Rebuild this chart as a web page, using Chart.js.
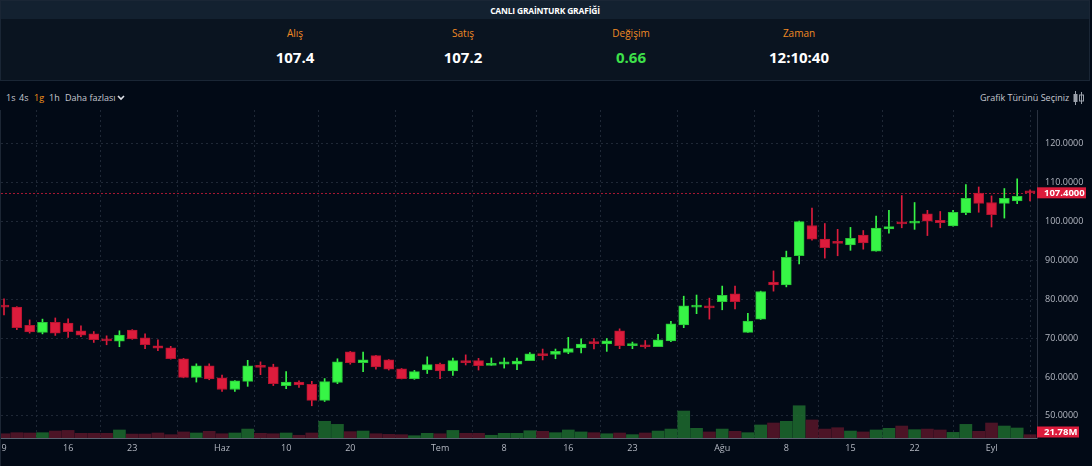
<!DOCTYPE html>
<html>
<head>
<meta charset="utf-8">
<script src="https://cdn.jsdelivr.net/npm/chart.js@4.4.1/dist/chart.umd.min.js"></script>
<style>
html, body { margin: 0; padding: 0; width: 1092px; height: 466px; overflow: hidden; background: #020a16; font-family: "Open Sans", sans-serif; }
#head { position: absolute; left: 0; top: 0; width: 1088px; height: 79px; background: #0a1420; border: 1px solid #1a2635; }
#title { height: 18px; background: #132130; color: #fff; font-weight: 700; font-size: 8.5px; text-align: center; line-height: 20px; letter-spacing: -0.2px; }
.col { position: absolute; width: 168px; text-align: center; }
.lab { top: 25px; color: #f08a24; font-size: 10px; }
.val { top: 46px; color: #fff; font-weight: 700; font-size: 15px; }
#tools { position: absolute; top: 90px; left: 0; width: 1092px; height: 16px; font-size: 9px; color: #c5c8d0; line-height: 16px; }
#tools span { position: absolute; }
#wrap { position: absolute; left: 0; top: 110px; width: 1092px; height: 356px; border-left: 1px solid #1c2634; box-sizing: border-box; }
</style>
</head>
<body>
<div id="head">
  <div id="title">CANLI GRAİNTURK GRAFİĞİ</div>
  <div class="col lab" style="left:210px">Alış</div>
  <div class="col lab" style="left:378px">Satış</div>
  <div class="col lab" style="left:546px">Değişim</div>
  <div class="col lab" style="left:714px">Zaman</div>
  <div class="col val" style="left:210px">107.4</div>
  <div class="col val" style="left:378px">107.2</div>
  <div class="col val" style="left:546px;color:#3ee04a">0.66</div>
  <div class="col val" style="left:714px">12:10:40</div>
</div>
<div id="tools">
  <span style="left:6px">1s</span>
  <span style="left:19px">4s</span>
  <span style="left:34px;color:#f7931a">1g</span>
  <span style="left:49px">1h</span>
  <span style="left:65px">Daha fazlası</span>
  <svg style="position:absolute;left:117px;top:5px" width="8" height="6"><polyline points="1,1 4,4 7,1" fill="none" stroke="#e0e2e8" stroke-width="1.6"/></svg>
  <span style="left:980px">Grafik Türünü Seçiniz</span>
  <svg style="position:absolute;left:1073px;top:1px" width="11" height="14">
    <line x1="2.5" y1="0" x2="2.5" y2="14" stroke="#9aa0aa"/><rect x="0.5" y="3" width="4" height="8" fill="#9aa0aa"/>
    <line x1="8.5" y1="1" x2="8.5" y2="13" stroke="#9aa0aa"/><rect x="6.5" y="4" width="4" height="6" fill="none" stroke="#9aa0aa"/>
  </svg>
</div>
<div id="wrap"><canvas id="chart"></canvas></div>
<script>
// daily candles (index = trading day), 9 May -> 5 Eyl
const open  = [78.3,78.0,73.3,71.5,74.1,73.9,71.9,71.1,69.8,69.2,72.1,70.1,68.0,67.5,64.7,59.9,62.9,59.8,56.8,58.9,
               62.9,62.6,57.8,58.7,58.1,54.0,58.6,66.5,63.7,65.5,64.4,62.1,59.6,61.8,63.3,61.6,64.2,64.2,63.0,63.3,
               63.3,64.2,66.0,65.8,66.3,67.5,69.0,68.5,71.9,68.1,68.3,67.8,69.3,73.4,78.0,78.3,79.4,81.4,71.5,74.9,
               84.4,83.7,91.2,99.0,95.5,94.9,94.0,96.5,92.4,98.1,99.8,99.6,102.0,100.3,98.9,102.3,107.3,104.9,104.7,105.3,107.7];
const high  = [80.1,78.1,74.7,74.9,75.2,75.0,73.2,71.7,70.6,71.9,72.2,71.1,69.6,67.9,64.8,63.4,63.4,60.5,59.1,64.3,
               63.9,63.3,61.4,59.0,58.9,59.6,64.7,66.6,66.4,65.6,64.5,62.2,61.7,65.2,63.6,64.9,65.7,64.8,64.9,64.9,
               64.9,66.3,67.2,67.2,70.2,69.8,69.9,69.9,72.4,69.0,69.4,71.0,74.3,80.8,81.1,80.3,83.4,83.4,76.4,82.1,
               87.3,92.4,100.1,103.5,99.5,98.0,98.5,97.7,101.4,102.9,106.7,104.9,102.9,102.6,102.9,109.5,108.9,106.6,108.5,111.0,108.2];
const low   = [76.0,72.2,71.3,71.1,70.7,70.2,70.4,68.9,68.3,67.8,69.7,67.3,66.8,64.6,59.8,58.7,59.3,56.3,56.3,57.6,
               60.6,57.8,57.0,57.3,52.6,53.7,58.3,63.3,61.4,62.0,61.8,59.5,59.4,60.9,59.6,60.4,63.1,61.8,63.0,62.3,
               61.9,64.2,64.4,64.7,66.0,66.2,67.2,66.6,67.3,67.3,67.4,67.8,69.1,72.7,76.3,74.9,77.3,77.5,71.5,74.8,
               82.1,83.2,89.1,95.2,90.6,91.2,92.6,92.9,92.4,97.0,98.4,98.0,96.4,98.4,98.8,101.8,102.4,98.6,100.9,104.6,105.3];
const close = [78.0,72.7,71.6,74.1,71.3,71.7,70.8,69.6,69.3,70.8,69.8,68.3,67.4,64.7,59.9,62.9,59.5,56.8,59.0,62.9,
               62.5,58.3,58.7,58.0,54.0,58.8,63.9,63.7,64.4,62.6,62.0,59.6,61.4,63.2,61.6,64.2,63.7,62.9,63.3,63.9,
               64.1,66.0,65.5,66.6,67.3,68.5,68.6,69.3,68.1,68.4,67.8,69.6,73.7,78.3,78.4,77.8,81.0,79.4,74.4,82.0,
               83.7,90.8,100.0,95.5,93.3,94.4,95.7,94.5,98.3,98.7,99.4,100.0,100.1,99.7,102.4,106.0,104.7,101.8,106.0,106.5,107.4];
// volume, millions
const volume = [28,35,33,35,46,50,31,31,31,53,26,26,33,22,40,33,44,28,33,59,
                31,28,33,18,33,110,90,42,46,28,24,22,15,31,28,50,31,31,18,31,
                31,48,44,35,53,40,35,28,33,22,33,46,59,178,64,40,59,44,35,86,
                99,110,213,119,59,68,46,40,53,64,79,55,59,53,37,90,44,99,79,66,21.78];

const tickIndex = [0, 5, 10, 17, 22, 27, 34, 39, 44, 49, 56, 61, 66, 71, 77];
const tickText  = ['9','16','23','Haz','10','20','Tem','8','16','23','Ağu','8','15','22','Eyl'];

const UP = '#37f546', DOWN = '#dc1c3c';
const up = close.map((c, i) => c >= open[i]);
const bodyColor = up.map(u => u ? UP : DOWN);
const edgeColor = up.map(u => u ? '#28c437' : '#b5132f');
const volColor = up.map(u => u ? 'rgba(34,120,50,0.75)' : 'rgba(95,22,42,0.8)');

const idx = open.map((_, i) => i);

const lastLabels = {
  id: 'lastLabels',
  beforeDatasetsDraw(chart) {
    const {ctx, chartArea, scales} = chart;
    const y = Math.round(scales.y.getPixelForValue(close[close.length - 1])) + 0.5;
    ctx.save();
    ctx.strokeStyle = 'rgba(220,28,60,0.75)';
    ctx.setLineDash([2, 2]);
    ctx.lineWidth = 1;
    ctx.beginPath();
    ctx.moveTo(chartArea.left, y);
    ctx.lineTo(chartArea.right, y);
    ctx.stroke();
    ctx.restore();
  },
  afterDraw(chart) {
    const {ctx, chartArea, scales} = chart;
    ctx.save();
    ctx.font = 'bold 9.5px "Open Sans", sans-serif';
    ctx.textBaseline = 'middle';
    // price tag
    let y = scales.y.getPixelForValue(close[close.length - 1]);
    ctx.fillStyle = DOWN;
    ctx.fillRect(chartArea.right, y - 5.5, 49, 11);
    ctx.fillStyle = '#fff';
    ctx.fillText(close[close.length - 1].toFixed(4), chartArea.right + 7, y + 0.5);
    // volume tag
    let vy = scales.v.getPixelForValue(volume[volume.length - 1]);
    vy = Math.min(vy, chartArea.bottom - 6);
    ctx.fillStyle = DOWN;
    ctx.fillRect(chartArea.right, vy - 5.5, 42, 11);
    ctx.fillStyle = '#fff';
    ctx.fillText(volume[volume.length - 1].toFixed(2) + 'M', chartArea.right + 7, vy + 0.5);
    ctx.restore();
  }
};

Chart.defaults.font.family = '"Open Sans", sans-serif';
Chart.defaults.font.size = 9;

new Chart(document.getElementById('chart'), {
  type: 'bar',
  data: {
    datasets: [
      {
        label: 'body',
        data: idx.map(i => ({x: i, y: [open[i], close[i]]})),
        backgroundColor: bodyColor,
        borderColor: edgeColor,
        borderWidth: 1,
        borderSkipped: false,
        barThickness: 10,
        minBarLength: 2,
        grouped: false,
        order: 1
      },
      {
        label: 'wick',
        data: idx.map(i => ({x: i, y: [low[i], high[i]]})),
        backgroundColor: bodyColor,
        barThickness: 1,
        grouped: false,
        order: 2
      },
      {
        label: 'volume',
        data: idx.map(i => ({x: i, y: volume[i]})),
        backgroundColor: volColor,
        barThickness: 12,
        grouped: false,
        yAxisID: 'v',
        order: 3
      }
    ]
  },
  options: {
    responsive: true,
    maintainAspectRatio: false,
    animation: false,
    events: [],
    layout: { padding: 0 },
    plugins: {
      legend: { display: false },
      tooltip: { enabled: false }
    },
    scales: {
      x: {
        type: 'linear',
        min: -0.234,
        max: 80.545,
        offset: false,
        afterBuildTicks: (scale) => { scale.ticks = tickIndex.map(v => ({value: v})); },
        afterFit: (scale) => { scale.height = 28; scale.paddingLeft = 0; scale.paddingRight = 0; },
        ticks: {
          autoSkip: false,
          maxRotation: 0,
          padding: 5,
          color: '#b4b8c2',
          callback: (v) => tickText[tickIndex.indexOf(v)]
        },
        grid: { color: '#1f2836', drawTicks: false },
        border: { display: true, color: '#5b6270', dash: [2, 3] }
      },
      y: {
        position: 'right',
        min: 44.31,
        max: 128.71,
        afterFit: (scale) => { scale.width = 55; scale.paddingTop = 0; scale.paddingBottom = 0; },
        ticks: {
          stepSize: 10,
          includeBounds: false,
          padding: 8,
          color: '#b4b8c2',
          callback: (v) => v.toFixed(4)
        },
        grid: { color: '#1f2836', drawTicks: false },
        border: { display: true, color: '#2a3240', dash: [2, 3] }
      },
      v: {
        display: false,
        min: 0,
        max: 2165
      }
    }
  },
  plugins: [lastLabels]
});
</script>
</body>
</html>
